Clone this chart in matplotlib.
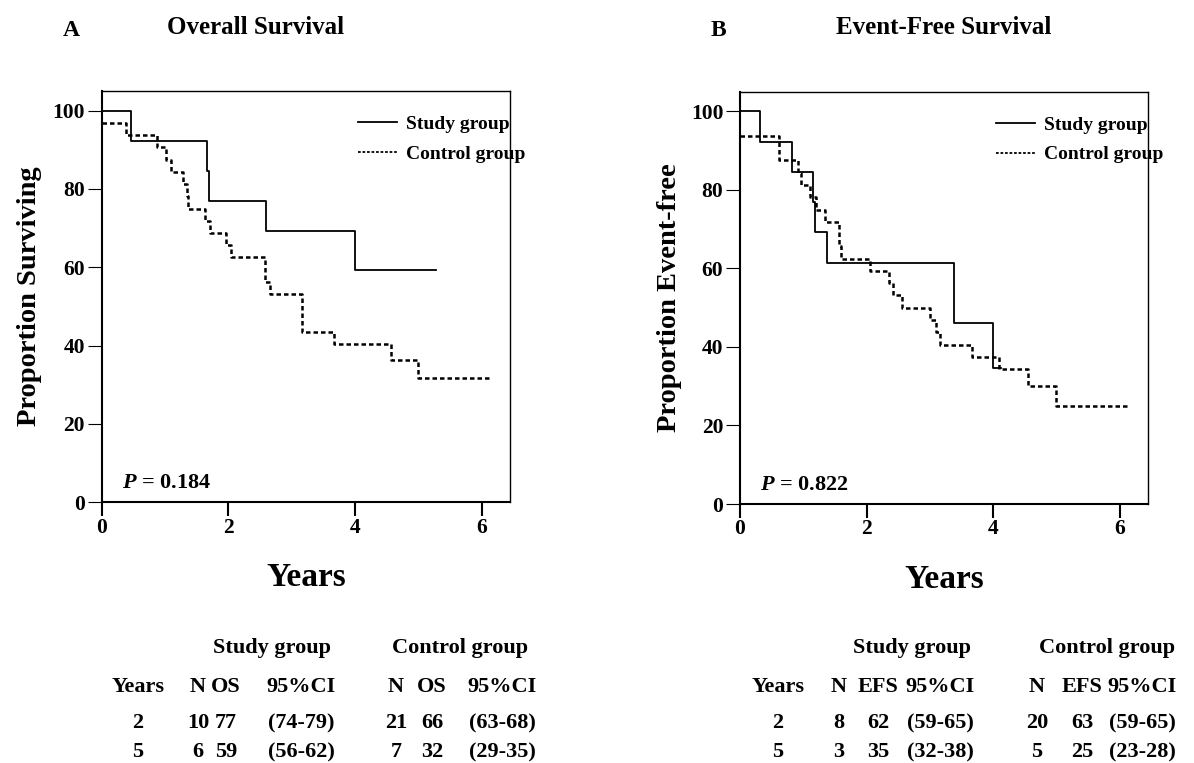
import matplotlib
matplotlib.use("Agg")
import matplotlib.pyplot as plt
from matplotlib.lines import Line2D

plt.rcParams['font.family'] = ['Liberation Serif', 'DejaVu Serif']
plt.rcParams['font.weight'] = 'bold'
plt.rcParams['mathtext.fontset'] = 'custom'
plt.rcParams['mathtext.it'] = 'Liberation Serif:italic:bold'
plt.rcParams['mathtext.rm'] = 'Liberation Serif:bold'

# Panel A - overall survival (step curves)
os_study_t = [0, 0.47, 1.66, 1.70, 2.60, 4.00, 5.28]
os_study_s = [100, 92.3, 84.6, 76.9, 69.2, 59.3, 59.3]
os_ctrl_t = [0, 0.39, 0.87, 1.02, 1.10, 1.29, 1.34, 1.37, 1.63, 1.71, 1.97, 2.05,
             2.58, 2.66, 3.17, 3.67, 4.57, 5.00, 6.12]
os_ctrl_s = [96.9, 93.8, 90.6, 87.5, 84.4, 81.3, 78.1, 75.0, 71.9, 68.8, 65.6, 62.5,
             56.3, 53.1, 43.6, 40.3, 36.2, 31.7, 31.7]

# Panel B - event-free survival
efs_study_t = [0, 0.32, 0.82, 1.15, 1.19, 1.37, 3.39, 4.00, 4.12]
efs_study_s = [100, 92.3, 84.6, 76.9, 69.2, 61.5, 46.1, 34.6, 34.6]
efs_ctrl_t = [0, 0.62, 0.92, 0.97, 1.10, 1.20, 1.35, 1.56, 1.60, 2.06, 2.35, 2.42,
              2.56, 3.00, 3.10, 3.16, 3.66, 4.10, 4.55, 5.00, 6.16]
efs_ctrl_s = [93.8, 87.5, 84.4, 81.3, 78.1, 75.0, 71.9, 65.6, 62.5, 59.4, 56.3, 53.1,
              50.0, 46.9, 43.8, 40.6, 37.5, 34.4, 30.1, 25.0, 25.0]

p_values = ['0.184', '0.822']

# tables under the panels
tab_years = ['2', '5']
os_study_n = ['10', '6']
os_study_v = ['77', '59']
os_study_ci = ['(74-79)', '(56-62)']
os_ctrl_n = ['21', '7']
os_ctrl_v = ['66', '32']
os_ctrl_ci = ['(63-68)', '(29-35)']
efs_study_n = ['8', '3']
efs_study_v = ['62', '35']
efs_study_ci = ['(59-65)', '(32-38)']
efs_ctrl_n = ['20', '5']
efs_ctrl_v = ['63', '25']
efs_ctrl_ci = ['(59-65)', '(23-28)']

W, H = 1194, 763
fig = plt.figure(figsize=(W / 100, H / 100), dpi=100)


def fx(px):
    return px / W


def fy(py):
    return 1 - py / H


def panel(rect, st, ss, ct, cs, ylabel, pval, ylab_x):
    ax = fig.add_axes(rect)
    ax.step(st, ss, where='post', color='black', lw=1.3)
    ax.step(ct, cs, where='post', color='black', lw=1.8, linestyle=(0, (1.8, 1.2)))
    ax.set_xlim(0, 6.45)
    ax.set_ylim(0, 105)
    ax.set_xticks([0, 2, 4, 6])
    ax.set_yticks([0, 20, 40, 60, 80, 100])
    ax.tick_params(axis='x', length=10, width=1.5, pad=1, labelsize=15.5)
    ax.tick_params(axis='y', length=10, width=0.8, pad=2, labelsize=15.5)
    for s in ['left', 'bottom']:
        ax.spines[s].set_linewidth(1.5)
    for s in ['top', 'right']:
        ax.spines[s].set_linewidth(1.0)
    ax.set_xlabel('Years', fontsize=24, fontweight='bold')
    ax.xaxis.set_label_coords(0.5, -0.145)
    ax.set_ylabel(ylabel, fontsize=20.5, fontweight='bold')
    ax.yaxis.set_label_coords(ylab_x, 0.5)
    ax.text(0.05, 0.035, r'$P$ = ' + pval, transform=ax.transAxes,
            fontsize=16, fontweight='bold')
    handles = [Line2D([], [], color='black', lw=1.3),
               Line2D([], [], color='black', lw=1.3, linestyle=(0, (1.5, 1)))]
    ax.legend(handles, ['Study group', 'Control group'], loc='upper left',
              bbox_to_anchor=(0.628, 0.94), frameon=False, borderpad=0,
              borderaxespad=0, handlelength=2.0, handletextpad=0.45,
              labelspacing=0.6, prop={'weight': 'bold', 'size': 14})
    return ax


panel([fx(101.7), fy(502.3), fx(510) - fx(101.7), fy(91) - fy(502.3)],
      os_study_t, os_study_s, os_ctrl_t, os_ctrl_s, 'Proportion Surviving', p_values[0], -0.146)
panel([fx(740), fy(504), fx(1148) - fx(740), fy(91.7) - fy(504)],
      efs_study_t, efs_study_s, efs_ctrl_t, efs_ctrl_s, 'Proportion Event-free', p_values[1], -0.143)

fig.text(fx(71), fy(30), 'A', fontsize=17, ha='center', va='center', fontweight='bold')
fig.text(fx(256), fy(27), 'Overall Survival', fontsize=18, ha='center', va='center', fontweight='bold')
fig.text(fx(718), fy(30), 'B', fontsize=17, ha='center', va='center', fontweight='bold')
fig.text(fx(944), fy(27), 'Event-Free Survival', fontsize=18, ha='center', va='center', fontweight='bold')


def table(cols, heads, metric, cols_data):
    rows_y = [648, 687, 723, 752]
    fs = 16
    fig.text(fx(heads[0]), fy(rows_y[0]), 'Study group', fontsize=fs, ha='center', va='center')
    fig.text(fx(heads[1]), fy(rows_y[0]), 'Control group', fontsize=fs, ha='center', va='center')
    header = ['Years', 'N', metric, '95%CI', 'N', metric, '95%CI']
    for x, h in zip(cols, header):
        fig.text(fx(x), fy(rows_y[1]), h, fontsize=fs, ha='center', va='center')
    for i in range(2):
        for x, col in zip(cols, cols_data):
            fig.text(fx(x), fy(rows_y[2 + i]), col[i], fontsize=fs, ha='center', va='center')


table([138, 198, 226, 301, 396, 432, 502], [272, 460], 'OS',
      [tab_years, os_study_n, os_study_v, os_study_ci, os_ctrl_n, os_ctrl_v, os_ctrl_ci])
table([778, 839, 878, 940, 1037, 1082, 1142], [912, 1107], 'EFS',
      [tab_years, efs_study_n, efs_study_v, efs_study_ci, efs_ctrl_n, efs_ctrl_v, efs_ctrl_ci])

fig.savefig('out.png', dpi=100)
